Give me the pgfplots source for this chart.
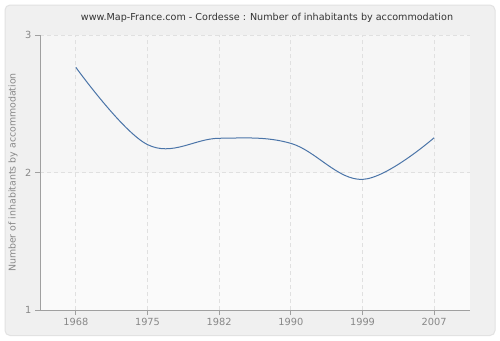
\documentclass[border=0pt]{standalone}
\usepackage{pgfplots}
\pgfplotsset{compat=1.18}
\usepackage{fontspec}
\setmainfont{DejaVu Sans}
\definecolor{panel}{HTML}{F0F0F0}
\definecolor{panelborder}{HTML}{E2E2E2}
\definecolor{upperbg}{HTML}{F6F6F6}
\definecolor{lowerbg}{HTML}{FAFAFA}
\definecolor{gridc}{HTML}{E0E0E0}
\definecolor{axisc}{HTML}{A0A0A0}
\definecolor{textc}{HTML}{888888}
\definecolor{linec}{HTML}{4A74A8}
\begin{document}
\begin{tikzpicture}[x=1bp,y=1bp]
\path[fill=white] (0,0) rectangle (500,-340);
\draw[panelborder,fill=panel,rounded corners=5bp,line width=1bp] (5,-5) rectangle (495,-335.5);
\node[text=black!80,font=\fontsize{9.6bp}{12bp}\selectfont] at (267,-18) {www.Map-France.com - Cordesse : Number of inhabitants by accommodation};
\begin{axis}[
  at={(40bp,-35bp)}, anchor=north west,
  scale only axis, width=430bp, height=275bp,
  xmin=-0.5, xmax=5.5, ymin=1, ymax=3,
  xtick={0,1,2,3,4,5},
  xticklabels={1968,1975,1982,1990,1999,2007},
  ytick={1,2,3},
  axis x line*=bottom, axis y line*=left,
  every inner x axis line/.append style={draw=axisc,line width=1bp,-},
  every inner y axis line/.append style={draw=axisc,line width=1bp,-},
  every outer x axis line/.append style={draw=axisc,line width=1bp,-},
  every outer y axis line/.append style={draw=axisc,line width=1bp,-},
  tick style={draw=axisc,line width=1bp},
  tick align=outside, major tick length=5bp,
  xtick pos=bottom, ytick pos=left,
  grid=major,
  major grid style={draw=gridc,line width=0.8bp,dash pattern=on 4bp off 3bp},
  ticklabel style={text=textc,font=\fontsize{9.8bp}{12bp}\selectfont},
  /pgf/number format/assume math mode=true,
  ylabel={Number of inhabitants by accommodation},
  every axis y label/.style={at={(axis description cs:-0.063,0.5)},rotate=90,anchor=center,text=textc,font=\fontsize{9.4bp}{12bp}\selectfont},
  axis background/.style={fill=lowerbg,path picture={\fill[upperbg] (path picture bounding box.north west) rectangle (path picture bounding box.east);}},
  clip=false,
]
\addplot[linec,line width=1bp,smooth,tension=0.62] coordinates {
(0,2.765) (1,2.203) (2,2.249) (3,2.212) (4,1.95) (5,2.253)
};
\end{axis}
\end{tikzpicture}
\end{document}
